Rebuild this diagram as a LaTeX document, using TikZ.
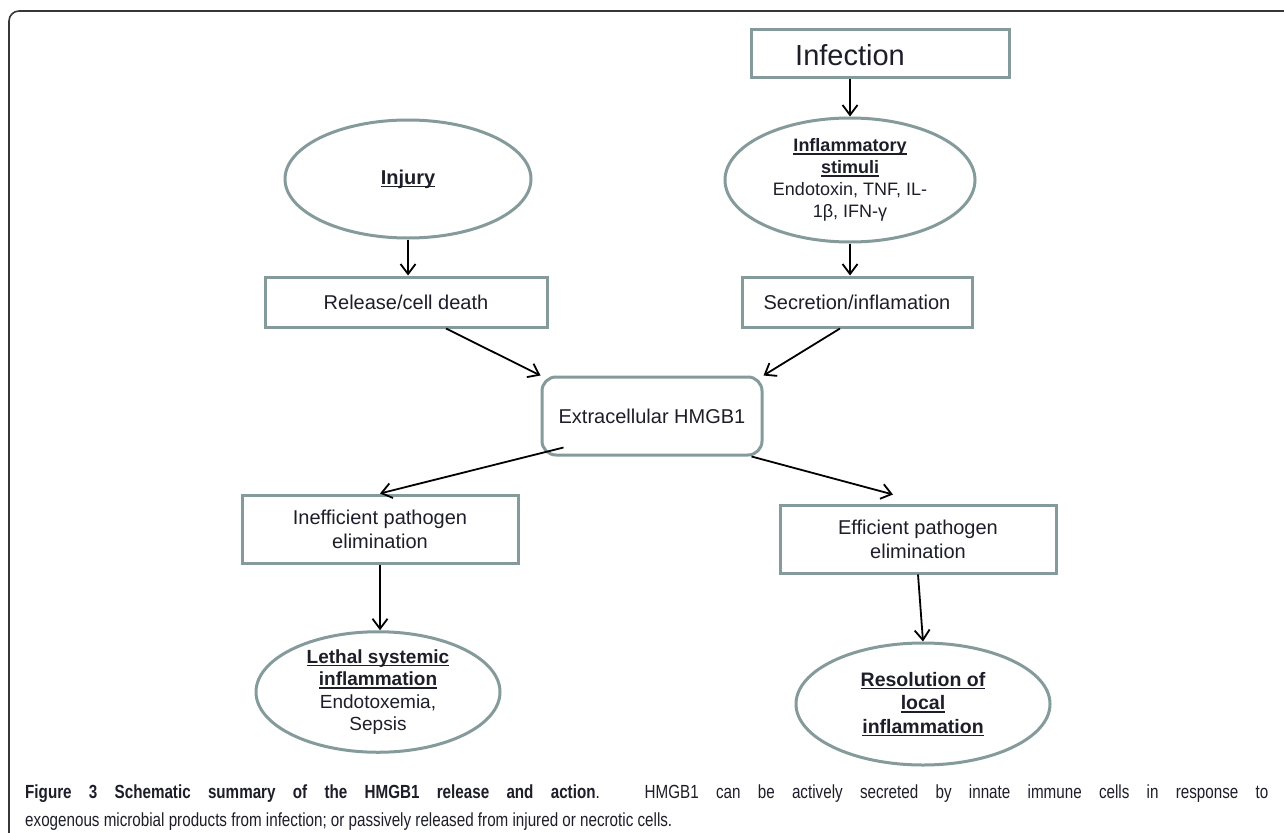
\documentclass[tikz,border=0pt]{standalone}
\usepackage{fontspec}
\setmainfont{Liberation Sans}
\usetikzlibrary{arrows.meta,shapes.geometric}
\definecolor{bord}{RGB}{133,155,155}
\definecolor{framec}{RGB}{55,55,55}
\definecolor{txt}{RGB}{30,30,42}
\newcommand{\uln}[1]{\setbox0=\hbox{#1}\leavevmode\rlap{\rule[-3pt]{\wd0}{1.5pt}}\box0}
\begin{document}
\begin{tikzpicture}[x=1pt,y=-1pt,
  box/.style={draw=bord,line width=3pt,rectangle,inner sep=0pt,align=center,font=\fontsize{20}{24}\selectfont,text=txt},
  oval/.style={draw=bord,line width=3pt,ellipse,inner sep=0pt,align=center,text=txt},
  arr/.style={line width=1.8pt,-{Straight Barb[length=10pt,width=15pt,line width=1.8pt]}}]
\useasboundingbox (0,0) rectangle (1284,832);
\fill[white] (0,0) rectangle (1284,832);
\draw[framec,line width=1.6pt,rounded corners=10pt] (9,834) -- (9,11) -- (1286,11);
% nodes
\node[box,minimum width=258,minimum height=48] (inf) at (880,54) {};
\node[font=\fontsize{29}{32}\selectfont,text=txt,inner sep=0pt] (inft) at (850,55) {Infection};
\node[oval,minimum width=246,minimum height=118,font=\fontsize{20}{22}\selectfont] (inj) at (408,179) {\textbf{\uln{Injury}}};
\node[oval,minimum width=250,minimum height=124,font=\fontsize{18}{22}\selectfont] (infl) at (850,180) {\textbf{\uln{Inflammatory}}\\\textbf{\uln{stimuli}}\\Endotoxin, TNF, IL-\\1β, IFN-γ};
\node[box,minimum width=282,minimum height=50] (rel) at (406,302) {Release/cell death};
\node[box,minimum width=230,minimum height=50] (sec) at (857,302) {Secretion/inflamation};
\node[box,rounded corners=14pt,minimum width=220,minimum height=78] (ext) at (652,416) {Extracellular HMGB1};
\node[box,minimum width=276,minimum height=68] (ineff) at (380,529) {Inefficient pathogen\\elimination};
\node[box,minimum width=276,minimum height=68] (eff) at (918,539) {Efficient pathogen\\elimination};
\node[oval,minimum width=244,minimum height=118,font=\fontsize{19}{22.5}\selectfont] (leth) at (378,692) {\textbf{\uln{Lethal systemic}}\\\textbf{\uln{inflammation}}\\Endotoxemia,\\Sepsis};
\node[oval,minimum width=254,minimum height=122,font=\fontsize{19.5}{23.5}\selectfont] (res) at (923,704) {\textbf{\uln{Resolution of}}\\\textbf{\uln{local}}\\\textbf{\uln{inflammation}}};
% arrows
\draw[arr] (inf.south -| infl.north) -- (infl.north);
\draw[arr] (inj.south) -- (inj.south |- rel.north);
\draw[arr] (infl.south) -- (infl.south |- sec.north);
\draw[arr] ([xshift=40pt]rel.south) -- (ext.north west);
\draw[arr] ([xshift=-17pt]sec.south) -- (ext.north east);
\draw[arr] ([xshift=23pt,yshift=9pt]ext.south west) -- (ineff.north);
\draw[arr] ([xshift=-12pt]ext.south east) -- ([xshift=-25pt,yshift=9pt]eff.north);
\draw[arr] (ineff.south) -- (ineff.south |- leth.north);
\draw[arr] (eff.south) -- (res.north);
% caption
\node[anchor=base west,inner sep=0pt,font=\fontsize{19}{22}\selectfont,text=txt] (cap1) at (25,798) {\scalebox{0.8}[1]{\makebox[1554pt][s]{\textbf{Figure 3 Schematic summary of the HMGB1 release and action}. HMGB1 can be actively secreted by innate immune cells in response to}}};
\node[anchor=base west,inner sep=0pt,font=\fontsize{19}{22}\selectfont,text=txt] (cap2) at (25,826) {\scalebox{0.8}[1]{exogenous microbial products from infection; or passively released from injured or necrotic cells.}};
\end{tikzpicture}
\end{document}
